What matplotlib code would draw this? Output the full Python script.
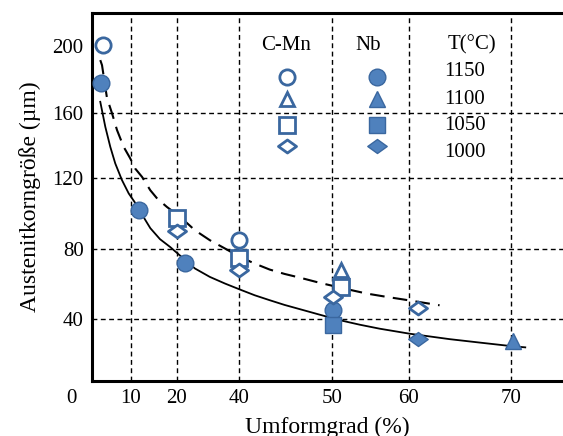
import numpy as np
import matplotlib
matplotlib.use('Agg')
import matplotlib.pyplot as plt
from matplotlib.path import Path

plt.rcParams['font.family'] = ['Liberation Serif', 'DejaVu Serif']

# both axes are drawn unevenly: tick values and where they sit along the axis
x_ticks = [10, 20, 40, 50, 60, 70]
x_knots = [-10, 0, 10, 20, 40, 50, 60, 70, 80, 100]
x_pos = [11, 71, 131, 177, 239, 332, 409, 511, 613, 817]
y_ticks = [40, 80, 120, 160, 200]
y_grid = [40, 80, 120, 160]
y_knots = [-100, 0, 40, 80, 120, 160, 200, 400]
y_pos = [563, 388, 318.3, 248.3, 177.5, 113, 45.5, -292]

temps = ['1150', '1100', '1050', '1000']

# C-Mn steel (open symbols)
cmn_1150_x = [5.3, 40.0]
cmn_1150_y = [200.3, 84.7]
cmn_1100_x = [51.2]
cmn_1100_y = [67.6]
cmn_1050_x = [20.0, 40.0, 51.2]
cmn_1050_y = [97.1, 74.7, 57.9]
cmn_1000_x = [20.0, 40.0, 50.1, 60.9]
cmn_1000_y = [89.8, 67.6, 52.2, 45.9]

# Nb steel (filled symbols)
nb_1150_x = [5.0, 11.7, 22.6, 50.1]
nb_1150_y = [177.8, 101.6, 71.6, 44.7]
nb_1100_x = [70.2]
nb_1100_y = [26.9]
nb_1050_x = [50.1]
nb_1050_y = [36.2]
nb_1000_x = [60.9]
nb_1000_y = [28.2]

# trend lines
cmn_fit_x = [4.88, 5.17, 6.0, 6.83, 7.67, 8.78, 9.88, 10.9, 12.4, 14.2, 15.7, 17.8,
             21.0, 25.8, 30.6, 35.5, 40.1, 41.7, 43.3, 44.9, 46.6, 48.7, 51.95, 54.5,
             57.1, 59.3, 63.0]
cmn_fit_y = [191.4, 188.4, 168.9, 160.0, 149.5, 139.1, 131.9, 125.7, 120.5, 112.9,
             108.2, 103.5, 97.9, 90.3, 84.7, 80.0, 75.2, 71.4, 68.0, 65.5, 63.3, 60.4,
             56.8, 54.3, 52.4, 50.9, 47.6]
nb_fit_x = [4.88, 5.72, 6.55, 7.38, 8.5, 9.62, 11.7, 13.0, 14.2, 16.3, 18.5, 25.8,
            30.6, 35.5, 40.1, 41.7, 43.3, 44.9, 46.6, 48.7, 51.0, 53.6, 56.2, 60.1,
            64.0, 67.0, 69.9, 71.4]
nb_fit_y = [166.7, 151.5, 139.1, 128.8, 118.6, 111.1, 102.8, 96.6, 91.5, 85.3, 80.9,
            68.6, 63.8, 60.0, 56.6, 53.3, 50.5, 47.8, 45.3, 42.2, 39.1, 36.5, 34.2,
            31.3, 28.2, 26.2, 24.3, 23.5]


def x_fwd(v):
    return np.interp(v, x_knots, x_pos)


def x_inv(p):
    return np.interp(p, x_pos, x_knots)


y_neg = [-p for p in y_pos]


def y_fwd(v):
    return np.interp(v, y_knots, y_neg)


def y_inv(p):
    return np.interp(p, y_neg, y_knots)


# flat diamond marker
flat_d = Path([(-1, 0), (0, 0.72), (1, 0), (0, -0.72), (-1, 0)],
              [Path.MOVETO, Path.LINETO, Path.LINETO, Path.LINETO, Path.CLOSEPOLY])

fill_c = '#4f81bd'
edge_c = '#3a679f'
markers = ['o', '^', 's', flat_d]
sizes = [12, 11, 12, 14]

fig = plt.figure(figsize=(5.63, 4.36), dpi=100)
ax = fig.add_axes([0.1634, 0.1261, 0.8366, 0.8441])
ax.set_xscale('function', functions=(x_fwd, x_inv))
ax.set_yscale('function', functions=(y_fwd, y_inv))
ax.set_xlim(3.5, 75.1)
ax.set_ylim(4.2, 219.3)

for xv in x_ticks:
    ax.axvline(xv, color='black', lw=1.0, ls=(0, (3.5, 2.5)), zorder=1)
for yv in y_grid:
    ax.axhline(yv, color='black', lw=1.0, ls=(0, (3.5, 2.5)), zorder=1)

ax.plot(cmn_fit_x, cmn_fit_y, color='black', lw=1.5, ls=(0, (7, 4)), zorder=2)
ax.plot(nb_fit_x, nb_fit_y, color='black', lw=1.3, zorder=2)

cmn_x = [cmn_1150_x, cmn_1100_x, cmn_1050_x, cmn_1000_x]
cmn_y = [cmn_1150_y, cmn_1100_y, cmn_1050_y, cmn_1000_y]
nb_x = [nb_1150_x, nb_1100_x, nb_1050_x, nb_1000_x]
nb_y = [nb_1150_y, nb_1100_y, nb_1050_y, nb_1000_y]

for i in range(4):
    ax.plot(nb_x[i], nb_y[i], ls='none', marker=markers[i], ms=sizes[i],
            mfc=fill_c, mec=edge_c, mew=1.0, zorder=3, clip_on=False)
    ax.plot(cmn_x[i], cmn_y[i], ls='none', marker=markers[i], ms=sizes[i] - 1,
            mfc='white', mec=edge_c, mew=2.0, zorder=4, clip_on=False)

# symbol key
ax.text(0.412, 0.913, 'C-Mn', transform=ax.transAxes, ha='center', va='center', fontsize=15)
ax.text(0.586, 0.913, 'Nb', transform=ax.transAxes, ha='center', va='center', fontsize=15)
ax.text(0.807, 0.913, 'T(°C)', transform=ax.transAxes, ha='center', va='center', fontsize=15)
key_y = [0.826, 0.766, 0.696, 0.639]
text_y = [0.840, 0.766, 0.693, 0.622]
for i in range(4):
    ax.plot([0.414], [key_y[i]], transform=ax.transAxes, ls='none', marker=markers[i],
            ms=sizes[i] - 1, mfc='white', mec=edge_c, mew=2.0)
    ax.plot([0.605], [key_y[i]], transform=ax.transAxes, ls='none', marker=markers[i],
            ms=sizes[i], mfc=fill_c, mec=edge_c, mew=1.0)
    ax.text(0.792, text_y[i], temps[i], transform=ax.transAxes, ha='center',
            va='center', fontsize=15)

ax.set_xticks(x_ticks)
ax.set_xticklabels([str(t) for t in x_ticks])
ax.set_yticks(y_ticks)
ax.set_yticklabels([str(t) for t in y_ticks])
ax.minorticks_off()
ax.tick_params(length=0, labelsize=15, pad=6)
ax.text(0, -0.0226, '0', transform=ax.get_xaxis_transform(), ha='center', va='top',
        fontsize=15, clip_on=False)

for s in ['left', 'bottom', 'top']:
    ax.spines[s].set_linewidth(2.2)
ax.spines['right'].set_visible(False)

ax.set_xlabel('Umformgrad (%)', fontsize=17, labelpad=6)
ax.set_ylabel('Austenitkorngröße (µm)', fontsize=17, labelpad=8)

fig.savefig('out.png', dpi=100)
